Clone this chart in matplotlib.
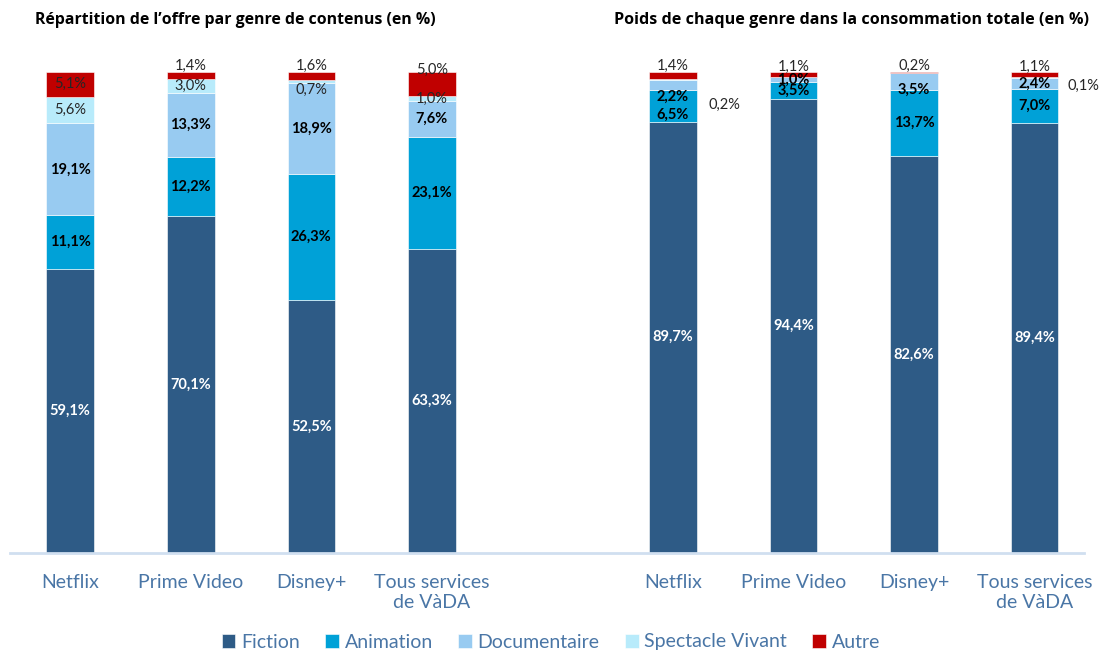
import matplotlib.pyplot as plt
import numpy as np

# categories & values (%)
services = ["Netflix", "Prime Video", "Disney+", "Tous services\nde VàDA"]
genres = ["Fiction", "Animation", "Documentaire", "Spectacle Vivant", "Autre"]

# repartition de l'offre
offre_fiction = [59.1, 70.1, 52.5, 63.3]
offre_animation = [11.1, 12.2, 26.3, 23.1]
offre_documentaire = [19.1, 13.3, 18.9, 7.6]
offre_spectacle = [5.6, 3.0, 0.7, 1.0]
offre_autre = [5.1, 1.4, 1.6, 5.0]

# poids dans la consommation
conso_fiction = [89.7, 94.4, 82.6, 89.4]
conso_animation = [6.5, 3.5, 13.7, 7.0]
conso_documentaire = [2.2, 1.0, 3.5, 2.4]
conso_spectacle = [0.2, 0.0, 0.0, 0.1]
conso_autre = [1.4, 1.1, 0.2, 1.1]

colors = ['#2e5b86', '#00a1d7', '#98cbf1', '#b8ebfb', '#c00000']
label_colors = ['white', 'black', 'black', '#262626', '#262626']
label_weights = ['bold', 'bold', 'bold', 'normal', 'normal']
tick_color = '#4a76a6'

# label nudges in pixels (dx, dy), key = (panel, service, genre)
nudges = {
    (0, 1, 4): (0, 9), (0, 2, 4): (0, 10), (0, 2, 3): (0, -9), (0, 3, 4): (0, 14),
    (1, 0, 1): (0, -9), (1, 0, 2): (0, -12), (1, 0, 3): (51, -26), (1, 0, 4): (0, 9),
    (1, 1, 4): (0, 8), (1, 2, 2): (0, -8), (1, 2, 4): (0, 7),
    (1, 3, 3): (49, -8), (1, 3, 4): (0, 8),
}

offre = [offre_fiction, offre_animation, offre_documentaire, offre_spectacle, offre_autre]
conso = [conso_fiction, conso_animation, conso_documentaire, conso_spectacle, conso_autre]

fig = plt.figure(figsize=(11.01, 6.52), dpi=100)
ax = fig.add_axes([10 / 1101, 1 - 553 / 652, 1074 / 1101, 481 / 652])

width = 0.395
for p, (panel, x0) in enumerate([(offre, 0), (conso, 5)]):
    x = np.arange(4) + x0
    bottom = np.zeros(4)
    for g in range(5):
        vals = np.array(panel[g])
        ax.bar(x, vals, width, bottom=bottom, color=colors[g],
               edgecolor='white', linewidth=0.4,
               label=genres[g] if p == 0 else None)
        for i in range(4):
            if vals[i] <= 0:
                continue
            dx, dy = nudges.get((p, i, g), (0, 0))
            txt = f"{vals[i]:.1f}%".replace('.', ',')
            ax.annotate(txt, (x[i], bottom[i] + vals[i] / 2),
                        xytext=(dx * 0.72, dy * 0.72), textcoords='offset points',
                        ha='center', va='center', fontsize=10.5,
                        color=label_colors[g], fontweight=label_weights[g],
                        family='Lato', annotation_clip=False)
        bottom += vals

ax.set_xlim(-0.5, 8.41)
ax.set_ylim(0, 100)
ax.set_xticks([0, 1, 2, 3, 5, 6, 7, 8])
ax.set_xticklabels(services + services, fontsize=14, color=tick_color, family='Lato')
ax.tick_params(axis='x', length=0, pad=15)
ax.set_yticks([])
for s in ['top', 'right', 'left']:
    ax.spines[s].set_visible(False)
ax.spines['bottom'].set_color('#d0dff0')
ax.spines['bottom'].set_linewidth(2)

fig.text(235 / 1101, 1 - 20 / 652, "Répartition de l’offre par genre de contenus (en %)",
         ha='center', va='center', fontsize=11.4, fontweight='bold', family='Open Sans')
fig.text(852 / 1101, 1 - 20 / 652, "Poids de chaque genre dans la consommation totale (en %)",
         ha='center', va='center', fontsize=11.6, fontweight='bold', family='Open Sans')

leg = fig.legend(loc='center', bbox_to_anchor=(551 / 1101, 1 - 642 / 652), ncol=5,
                 frameon=False, handlelength=0.7, handleheight=0.7,
                 handletextpad=0.3, columnspacing=1.3, prop={'family': 'Lato', 'size': 14})
for t in leg.get_texts():
    t.set_color(tick_color)

fig.savefig('out.png', dpi=100)
